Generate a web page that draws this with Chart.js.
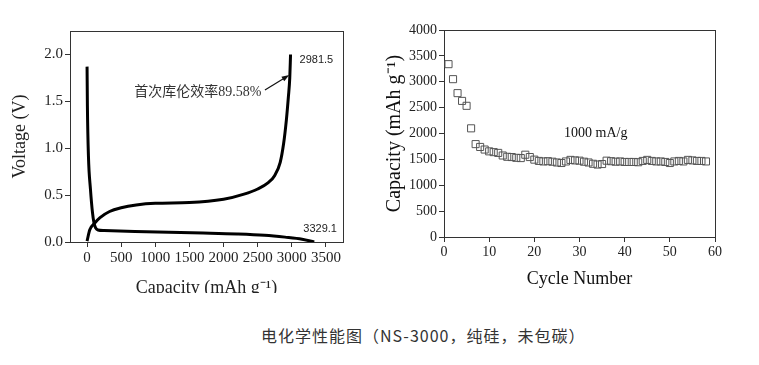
<!DOCTYPE html>
<html>
<head>
<meta charset="utf-8">
<script src="https://cdn.jsdelivr.net/npm/chart.js@4.4.1/dist/chart.umd.min.js"></script>
<style>
  body { margin: 0; background: #fff; width: 759px; height: 365px; position: relative; overflow: hidden; }
  #leftWrap { position: absolute; left: 0; top: 0; width: 370px; height: 293px; overflow: hidden; }
  #rightWrap { position: absolute; left: 380px; top: 0; width: 379px; height: 310px; }
  #caption {
    position: absolute; left: 261px; top: 326px; white-space: nowrap; letter-spacing: 1px;
    font: 16px/18px "Noto Sans CJK SC", sans-serif; color: #333;
  }
</style>
</head>
<body>
<div id="leftWrap"><canvas id="voltChart" width="370" height="310"></canvas></div>
<div id="rightWrap"><canvas id="cycleChart" width="379" height="310"></canvas></div>
<div id="caption">电化学性能图（NS-3000，纯硅，未包碳）</div>

<script>
// first cycle, discharge (lithiation) and charge curves
const dischargeCap = [0, 5, 20, 50, 80, 100, 125, 160, 250, 700, 1200, 1700, 2200, 2600, 2900, 3150, 3329.1];
const dischargeVolt = [1.87, 1.45, 0.92, 0.56, 0.31, 0.21, 0.15, 0.128, 0.122, 0.112, 0.104, 0.096, 0.086, 0.072, 0.052, 0.03, 0.0];
const chargeCap = [0, 40, 110, 190, 330, 500, 720, 1000, 1500, 2000, 2300, 2500, 2650, 2750, 2830, 2880, 2920, 2950, 2970, 2981.5];
const chargeVolt = [0.01, 0.13, 0.2, 0.26, 0.325, 0.365, 0.395, 0.413, 0.42, 0.455, 0.51, 0.565, 0.63, 0.71, 0.85, 1.05, 1.3, 1.55, 1.75, 2.0];
const capTicks = [0, 500, 1000, 1500, 2000, 2500, 3000, 3500];
const voltTicks = [0, 0.5, 1.0, 1.5, 2.0];

// cycling at 1000 mA/g
const cycles = [1, 2, 3, 4, 5, 6, 7, 8, 9, 10, 11, 12, 13, 14, 15, 16, 17, 18, 19, 20,
  21, 22, 23, 24, 25, 26, 27, 28, 29, 30, 31, 32, 33, 34, 35, 36, 37, 38, 39, 40,
  41, 42, 43, 44, 45, 46, 47, 48, 49, 50, 51, 52, 53, 54, 55, 56, 57, 58];
const cycleCapacity = [3340, 3050, 2780, 2630, 2535, 2100, 1795, 1740, 1690, 1655, 1640, 1625, 1575, 1550, 1545, 1530, 1525, 1590, 1545, 1495,
  1470, 1460, 1465, 1455, 1440, 1430, 1460, 1490, 1480, 1475, 1455, 1440, 1415, 1400, 1410, 1475, 1465, 1455, 1460, 1450,
  1450, 1450, 1445, 1470, 1490, 1470, 1460, 1460, 1450, 1430, 1460, 1470, 1460, 1490, 1480, 1470, 1470, 1460];
const cycleTicks = [0, 10, 20, 30, 40, 50, 60];
const capacityTicks = [0, 500, 1000, 1500, 2000, 2500, 3000, 3500, 4000];

const serif = "'Liberation Serif', 'Times New Roman', serif";
const toPoints = (xs, ys) => xs.map((x, i) => ({ x: x, y: ys[i] }));
const fixTicks = list => scale => { scale.ticks = list.map(v => ({ value: v })); };

// box around the plot area
const framePlugin = {
  id: 'frame',
  beforeDatasetsDraw(chart) {
    const { ctx, chartArea: a } = chart;
    ctx.save();
    ctx.strokeStyle = '#333';
    ctx.lineWidth = 1;
    ctx.strokeRect(a.left + 0.5, a.top + 0.5, a.right - a.left, a.bottom - a.top);
    ctx.restore();
  }
};

function axis(opts) {
  return Object.assign({
    type: 'linear',
    grid: { drawOnChartArea: false, drawTicks: true, tickLength: 5, color: '#333' },
    border: { display: true, color: '#333', width: 1 },
  }, opts);
}

// left: voltage profile
const notesPlugin = {
  id: 'notes',
  afterDatasetsDraw(chart) {
    const { ctx, scales: { x, y } } = chart;
    const c = chargeCap.length - 1, d = dischargeCap.length - 1;
    ctx.save();
    ctx.fillStyle = '#222';
    ctx.textBaseline = 'alphabetic';
    ctx.font = "11px 'Liberation Sans', Arial, sans-serif";
    ctx.fillText(chargeCap[c].toFixed(1), x.getPixelForValue(chargeCap[c]) + 9, y.getPixelForValue(chargeVolt[c]) + 9);
    ctx.fillText(dischargeCap[d].toFixed(1), x.getPixelForValue(dischargeCap[d]) - 11, y.getPixelForValue(dischargeVolt[d]) - 10);

    ctx.fillStyle = '#333';
    ctx.font = "14px 'Liberation Serif', 'Noto Sans CJK SC', serif";
    ctx.fillText('首次库伦效率89.58%', x.getPixelForValue(690), y.getPixelForValue(1.56));

    // arrow to the end of the charge curve
    const x0 = x.getPixelForValue(2606), y0 = y.getPixelForValue(1.62);
    const x1 = x.getPixelForValue(2962), y1 = y.getPixelForValue(1.78);
    const ang = Math.atan2(y1 - y0, x1 - x0);
    ctx.strokeStyle = '#111';
    ctx.fillStyle = '#111';
    ctx.lineWidth = 1.2;
    ctx.beginPath();
    ctx.moveTo(x0, y0);
    ctx.lineTo(x1 - 5 * Math.cos(ang), y1 - 5 * Math.sin(ang));
    ctx.stroke();
    ctx.beginPath();
    ctx.moveTo(x1, y1);
    ctx.lineTo(x1 - 8 * Math.cos(ang - 0.35), y1 - 8 * Math.sin(ang - 0.35));
    ctx.lineTo(x1 - 8 * Math.cos(ang + 0.35), y1 - 8 * Math.sin(ang + 0.35));
    ctx.closePath();
    ctx.fill();
    ctx.restore();
  }
};

new Chart(document.getElementById('voltChart'), {
  type: 'scatter',
  data: {
    datasets: [
      { data: toPoints(dischargeCap, dischargeVolt) },
      { data: toPoints(chargeCap, chargeVolt) }
    ]
  },
  options: {
    responsive: false,
    animation: false,
    devicePixelRatio: 1,
    showLine: true,
    layout: { padding: { top: 31, right: 27, left: 0, bottom: 0 } },
    elements: {
      point: { radius: 0 },
      line: { borderColor: '#000', borderWidth: 3, cubicInterpolationMode: 'monotone', fill: false }
    },
    plugins: { legend: { display: false }, tooltip: { enabled: false } },
    scales: {
      x: axis({
        min: -250, max: 3750,
        afterBuildTicks: fixTicks(capTicks),
        afterFit: s => { s.height = 68; },
        ticks: { autoSkip: false, maxRotation: 0, padding: 2, color: '#222', font: { family: serif, size: 15 }, callback: v => String(v) },
        title: { display: true, text: 'Capacity (mAh g⁻¹)', color: '#222', font: { family: serif, size: 18 }, padding: { bottom: 11 } }
      }),
      y: axis({
        min: 0, max: 2.25,
        afterBuildTicks: fixTicks(voltTicks),
        afterFit: s => { s.width = 70; },
        ticks: { padding: 2, color: '#222', font: { family: serif, size: 15 }, callback: v => v.toFixed(1) },
        title: { display: true, text: 'Voltage (V)', color: '#222', font: { family: serif, size: 18 }, padding: { top: 9 } }
      })
    }
  },
  plugins: [framePlugin, notesPlugin]
});

// right: cycling performance
const rateLabelPlugin = {
  id: 'rateLabel',
  afterDatasetsDraw(chart) {
    const { ctx, scales: { x, y } } = chart;
    ctx.save();
    ctx.fillStyle = '#111';
    ctx.font = '14px ' + serif;
    ctx.textAlign = 'center';
    ctx.fillText('1000 mA/g', x.getPixelForValue(33.6), y.getPixelForValue(1940));
    ctx.restore();
  }
};

new Chart(document.getElementById('cycleChart'), {
  type: 'scatter',
  data: {
    datasets: [{
      data: toPoints(cycles, cycleCapacity),
      pointStyle: 'rect',
      pointRadius: 5,
      borderColor: '#555',
      backgroundColor: 'rgba(0,0,0,0)',
      borderWidth: 1
    }]
  },
  options: {
    responsive: false,
    animation: false,
    devicePixelRatio: 1,
    layout: { padding: { top: 30, right: 44, left: 0, bottom: 0 } },
    plugins: { legend: { display: false }, tooltip: { enabled: false } },
    scales: {
      x: axis({
        min: 0, max: 60,
        afterBuildTicks: fixTicks(cycleTicks),
        afterFit: s => { s.height = 73; },
        ticks: { autoSkip: false, maxRotation: 0, padding: 2, color: '#222', font: { family: serif, size: 14 }, callback: v => String(v) },
        title: { display: true, text: 'Cycle Number', color: '#111', font: { family: serif, size: 18 }, padding: { bottom: 20 } }
      }),
      y: axis({
        min: 0, max: 4000,
        afterBuildTicks: fixTicks(capacityTicks),
        afterFit: s => { s.width = 64; },
        ticks: { padding: 2, color: '#222', font: { family: serif, size: 14 }, callback: v => String(v) },
        title: { display: true, text: 'Capacity (mAh g⁻¹)', color: '#111', font: { family: serif, size: 20 }, padding: { top: 3 } }
      })
    }
  },
  plugins: [framePlugin, rateLabelPlugin]
});
</script>
</body>
</html>
